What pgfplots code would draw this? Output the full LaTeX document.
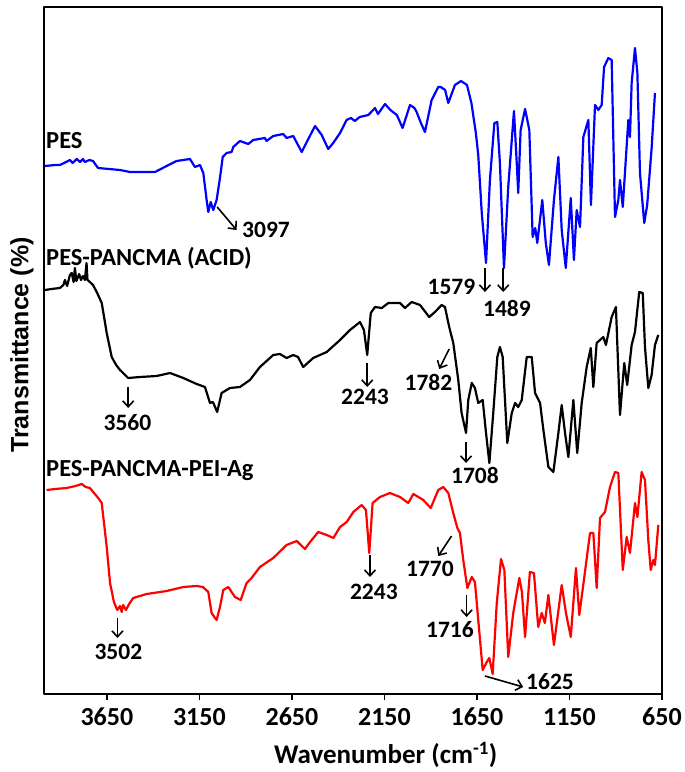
\documentclass[border=0pt]{standalone}
\usepackage{fontspec}
\setmainfont{Carlito}
\newfontfamily\arialfont{Liberation Sans}
\usepackage{pgfplots}
\pgfplotsset{compat=1.18}
\usetikzlibrary{arrows.meta}

\pgfplotstableread{
wn T
3985 534
3930 535
3904 535
3870 538
3850 540
3835 537
3813 541
3795 538
3780 541
3769 538
3745 540
3725 539
3698 532
3579 530
3525 528
3390 528
3327 534
3273 539
3201 541
3174 533
3147 535
3129 527
3111 500
3102 488
3089 498
3075 490
3057 500
3039 522
3024 543
3003 547
2976 548
2967 553
2931 559
2886 556
2859 560
2796 562
2787 559
2751 564
2697 566
2679 562
2643 564
2597 548
2570 558
2525 574
2489 565
2454 551
2427 557
2390 567
2355 580
2331 582
2310 579
2284 583
2237 585
2201 592
2185 586
2147 596
2118 590
2083 585
2052 572
2012 595
1988 592
1976 588
1953 577
1931 568
1895 600
1859 613
1846 613
1822 610
1805 597
1769 615
1736 619
1704 615
1680 597
1656 567
1643 545
1624 487
1601 437
1580 520
1556 577
1540 578
1526 537
1504 432
1481 513
1450 589
1435 537
1427 507
1414 570
1390 591
1367 570
1349 463
1335 472
1324 457
1297 500
1278 457
1261 435
1234 500
1210 543
1192 470
1170 432
1143 502
1126 440
1111 490
1093 473
1075 563
1048 580
1034 495
1012 595
994 590
976 595
963 633
940 642
922 640
904 483
886 500
877 520
862 493
832 580
823 563
814 617
796 652
783 627
769 527
746 477
730 495
706 552
688 607
}\pes

\pgfplotstableread{
wn T
3985 410
3950 411
3904 412
3885 415
3877 420
3865 414
3850 425
3840 427
3830 418
3823 432
3815 419
3800 426
3790 420
3780 424
3769 420
3760 437
3755 420
3742 418
3725 415
3705 408
3678 397
3651 367
3624 343
3600 335
3579 330
3535 322
3471 323
3381 324
3309 327
3237 322
3165 316
3120 313
3093 297
3077 298
3054 288
3030 307
2985 312
2931 313
2877 320
2823 333
2751 345
2715 346
2679 342
2643 345
2617 343
2589 333
2535 342
2462 348
2390 360
2336 370
2282 378
2261 370
2243 345
2224 387
2201 393
2165 392
2129 397
2066 397
2039 392
2003 398
1958 395
1908 383
1877 388
1841 395
1823 393
1800 373
1778 357
1751 320
1733 287
1709 267
1697 300
1678 317
1661 312
1643 297
1619 300
1601 267
1583 237
1562 287
1540 343
1526 353
1511 343
1486 257
1462 287
1444 297
1427 293
1408 300
1381 343
1354 343
1336 307
1309 297
1291 270
1264 233
1237 228
1210 267
1192 295
1174 267
1156 243
1129 300
1108 247
1084 297
1057 333
1035 352
1021 313
1003 357
967 363
953 355
922 383
899 393
877 285
854 337
838 315
814 355
796 368
773 408
754 407
742 353
724 312
706 325
688 355
670 365
}\acid

\pgfplotstableread{
wn T
3976 210
3930 211
3868 212
3820 214
3786 216
3765 213
3742 212
3697 202
3678 197
3651 153
3633 117
3612 98
3594 90
3579 94
3570 88
3562 95
3547 90
3530 96
3508 102
3435 106
3327 109
3237 113
3165 114
3131 113
3102 108
3084 87
3066 82
3057 80
3039 93
3021 110
2994 113
2958 103
2927 100
2895 117
2868 122
2823 133
2751 142
2679 155
2624 159
2580 151
2552 158
2508 168
2462 165
2426 162
2390 173
2354 178
2318 188
2273 195
2250 190
2232 147
2214 197
2174 203
2120 207
2066 203
2021 197
1994 206
1940 200
1900 192
1859 210
1832 213
1805 207
1778 187
1756 172
1742 167
1724 140
1702 112
1678 123
1661 118
1643 80
1619 30
1597 38
1583 42
1565 26
1543 97
1520 141
1502 130
1481 43
1454 87
1421 122
1407 108
1390 63
1364 128
1342 127
1319 73
1300 87
1283 77
1264 105
1234 55
1192 115
1169 87
1143 63
1115 132
1097 85
1072 120
1039 167
1021 167
1003 112
985 182
958 188
931 213
904 228
886 227
862 130
841 163
823 147
796 197
783 183
760 228
742 220
724 160
711 130
697 140
688 135
670 175
}\peiag

\begin{document}
\begin{tikzpicture}[
  lbl/.style={font=\bfseries\fontsize{24.5}{26}\selectfont, inner sep=0pt},
  num/.style={font=\bfseries\fontsize{23.5}{25}\selectfont, inner sep=0pt},
  arr/.style={line width=1.6pt, -{Straight Barb[length=6pt,width=11pt]}}
]
\begin{axis}[
  scale only axis, width=618pt, height=687pt,
  x dir=reverse, xmin=650, xmax=3990, ymin=6, ymax=693,
  xtick={650,1150,1650,2150,2650,3150,3650},
  ytick=\empty,
  xtick pos=lower, tick align=outside,
  major tick length=6pt,
  axis line style={line width=1.6pt},
  every tick/.style={black, line width=1.4pt},
  /pgf/number format/1000 sep={},
  /pgf/number format/assume math mode=true,
  xticklabel style={font=\bfseries\fontsize{26}{28}\selectfont, inner sep=0pt, anchor=north, yshift=-8pt},
  xlabel={Wavenumber (cm\textsuperscript{-1})},
  xlabel style={font=\bfseries\fontsize{27}{29}\selectfont, inner sep=0pt, at={(axis description cs:0.553,0)}, anchor=north, yshift=-48pt},
  clip=false,
  line join=round,
]
\addplot[blue, line width=2.2pt] table[x=wn, y=T] {\pes};
\addplot[black, line width=2.2pt] table[x=wn, y=T] {\acid};
\addplot[red, line width=2.2pt] table[x=wn, y=T] {\peiag};

\node[lbl, anchor=base west] at (axis cs:3979,551) {PES};
\node[lbl, anchor=base west] at (axis cs:3979,434) {PES-PANCMA (ACID)};
\node[lbl, anchor=base west] at (axis cs:3979,224) {PES-PANCMA-PEI-Ag};

\draw[arr] (axis cs:3054,493) -- (axis cs:2949,470);
\node[num] at (axis cs:2790,470) {3097};

\draw[arr] (axis cs:1607,432) -- (axis cs:1607,408);
\node[num] at (axis cs:1788,413) {1579};
\draw[arr] (axis cs:1508,432) -- (axis cs:1508,408);
\node[num] at (axis cs:1488,392) {1489};

\draw[arr] (axis cs:3535,313) -- (axis cs:3535,292);
\node[num] at (axis cs:3539,277) {3560};
\draw[arr] (axis cs:2243,337) -- (axis cs:2243,313);
\node[num] at (axis cs:2255,303) {2243};
\draw[arr] (axis cs:1800,351) -- (axis cs:1854,331);
\node[num] at (axis cs:1912,318) {1782};
\draw[arr] (axis cs:1709,258) -- (axis cs:1709,237);
\node[num] at (axis cs:1661,225) {1708};

\draw[arr] (axis cs:3593,82) -- (axis cs:3593,62);
\node[num] at (axis cs:3588,48) {3502};
\draw[arr] (axis cs:2228,145) -- (axis cs:2228,123);
\node[num] at (axis cs:2207,108) {2243};
\draw[arr] (axis cs:1787,164) -- (axis cs:1859,144);
\node[num] at (axis cs:1904,131) {1770};
\draw[arr] (axis cs:1706,105) -- (axis cs:1706,83);
\node[num] at (axis cs:1796,70) {1716};
\draw[arr] (axis cs:1607,24) -- (axis cs:1400,13);
\node[num] at (axis cs:1255,18) {1625};
\end{axis}
\node[rotate=90, inner sep=0pt, font=\arialfont\bfseries\fontsize{25}{27}\selectfont] at (-22pt,349pt) {Transmittance (\%)};
\pgfresetboundingbox
\path (-44pt,-78pt) rectangle (641pt,694pt);
\end{tikzpicture}
\end{document}
